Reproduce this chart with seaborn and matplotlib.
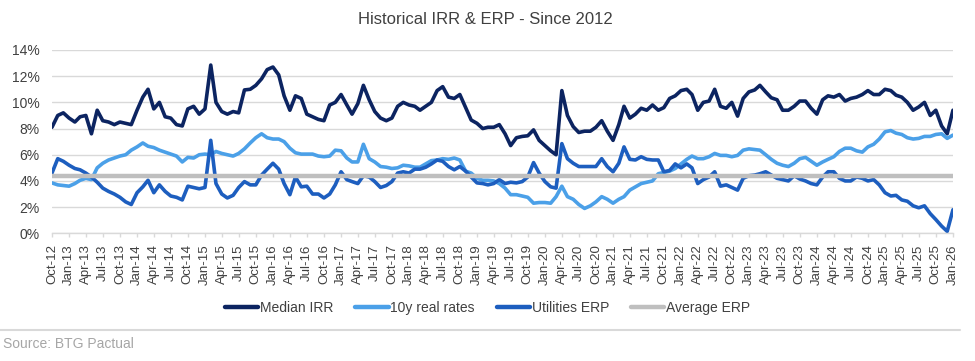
import pandas as pd
import matplotlib
matplotlib.use("Agg")
import matplotlib.pyplot as plt
from matplotlib.lines import Line2D
import seaborn as sns

# monthly readings, Oct-12 .. Jan-26 (160 months), values in %
median_irr = [
    8.1, 9.0, 9.2, 8.8, 8.5, 8.9, 9.0, 7.6, 9.4, 8.6,
    8.5, 8.3, 8.5, 8.4, 8.3, 9.4, 10.4, 11.0, 9.5, 10.0,
    8.9, 8.8, 8.3, 8.2, 9.5, 9.7, 9.1, 9.5,
    12.85, 10.0, 9.3, 9.1, 9.3, 9.2, 10.95, 11.0, 11.3, 11.8,
    12.5, 12.7, 12.1, 10.5, 9.4, 10.5, 10.3, 9.1, 8.9, 8.7,
    8.6, 9.8, 10.0, 10.6, 9.8, 9.1,
    9.9, 11.3, 10.2, 9.3, 8.8, 8.6, 8.8, 9.7, 10.0, 9.8,
    9.7, 9.4, 9.7, 10.0, 10.9, 11.2, 10.4, 10.3, 10.6, 9.6,
    8.65, 8.4, 8.0, 8.1, 8.1, 8.3, 7.6,
    6.7, 7.3, 7.4, 7.45, 7.9, 7.1, 6.7, 6.3, 6.0, 10.9,
    9.0, 8.15, 7.7, 7.8, 7.8, 8.1, 8.6, 7.8, 7.1, 8.3,
    9.7, 8.8, 9.1, 9.55, 9.4, 9.8,
    9.4, 9.6, 10.3, 10.5, 10.9, 11.0, 10.6, 9.4, 10.0, 10.1,
    11.0, 9.7, 9.55, 10.0, 8.95, 10.3, 10.8, 10.95, 11.3, 10.8,
    10.35, 10.2, 9.4, 9.4, 9.7,
    10.1, 10.1, 9.55, 9.1, 10.2, 10.5, 10.4, 10.6, 10.1, 10.3,
    10.4, 10.6, 10.9, 10.6, 10.6, 11.0, 10.9, 10.55, 10.4, 10.0,
    9.4, 9.65, 10.0, 9.0, 9.4, 8.2, 7.6, 9.4,
]

real_rates_10y = [
    3.85, 3.7, 3.65, 3.6, 3.8, 4.05, 4.2, 4.1, 5.0, 5.35,
    5.6, 5.75, 5.9, 6.0, 6.35, 6.6, 6.9, 6.65, 6.55, 6.35,
    6.2, 6.05, 5.9, 5.45, 5.8, 5.75, 6.0, 6.05,
    6.0, 6.25, 6.1, 6.0, 5.9, 6.1, 6.45, 6.9, 7.3, 7.6,
    7.3, 7.2, 7.2, 7.0, 6.5, 6.15, 6.05, 6.05, 6.05, 5.9,
    5.85, 5.9, 6.35, 6.3, 5.75, 5.45,
    5.45, 6.8, 5.7, 5.45, 5.1, 5.05, 4.95, 5.0, 5.2, 5.15,
    5.05, 5.05, 5.3, 5.55, 5.6, 5.7, 5.65, 5.75, 5.6, 4.75,
    4.6, 4.2, 4.05, 4.05, 4.0, 3.8, 3.45,
    2.95, 2.95, 2.85, 2.75, 2.3, 2.35, 2.35, 2.3, 2.8, 3.6,
    2.8, 2.6, 2.2, 1.9, 2.1, 2.4, 2.8, 2.6, 2.3, 2.6,
    2.8, 3.3, 3.55, 3.8, 3.9, 4.0,
    4.55, 4.65, 4.75, 4.95, 5.3, 5.65, 5.9, 5.7, 5.7, 5.85,
    6.1, 5.95, 5.95, 5.85, 5.95, 6.35, 6.45, 6.4, 6.35, 6.0,
    5.65, 5.35, 5.2, 5.1, 5.35,
    5.7, 5.8, 5.5, 5.2, 5.45, 5.65, 5.85, 6.25, 6.5, 6.5,
    6.3, 6.2, 6.6, 6.8, 7.2, 7.75, 7.85, 7.65, 7.55, 7.3,
    7.2, 7.25, 7.4, 7.4, 7.55, 7.6, 7.25, 7.5,
]

utilities_erp = [
    4.6, 5.7, 5.5, 5.2, 4.95, 4.85, 4.6, 4.3, 3.9, 3.45,
    3.2, 3.0, 2.75, 2.4, 2.2, 3.1, 3.55, 4.05, 3.1, 3.7,
    3.2, 2.85, 2.75, 2.55, 3.6, 3.5, 3.4, 3.5,
    7.1, 3.8, 3.0, 2.7, 2.9, 3.5, 3.95, 3.7, 3.7, 4.45,
    4.9, 5.35, 4.9, 3.8, 2.95, 4.3, 3.55, 3.6, 3.0, 3.0,
    2.7, 3.0, 3.7, 4.7, 4.1, 3.95,
    3.8, 4.4, 4.3, 3.95, 3.5, 3.65, 3.95, 4.6, 4.7, 4.6,
    4.9, 4.9, 5.05, 5.3, 5.6, 5.5, 5.1, 4.85, 5.1, 4.75,
    4.3, 3.85, 3.8, 3.7, 3.8, 4.1, 3.8,
    3.9, 3.85, 3.95, 4.3, 5.4, 4.6, 3.95, 3.55, 3.45, 6.85,
    5.7, 5.35, 5.1, 5.1, 5.1, 5.1, 5.7, 5.1, 4.7, 5.35,
    6.6, 5.65, 5.6, 5.85, 5.65, 5.6,
    5.6, 4.7, 4.8, 5.3, 5.0, 5.3, 5.0, 3.8, 4.1, 4.3,
    4.7, 3.6, 3.7, 3.5, 3.3, 4.2, 4.4, 4.45, 4.55, 4.7,
    4.45, 4.2, 4.1, 4.0, 4.4,
    4.15, 4.0, 3.8, 3.7, 4.3, 4.7, 4.7, 4.2, 4.0, 4.0,
    4.3, 4.2, 4.0, 4.1, 3.7, 3.1, 2.85, 2.9, 2.55, 2.45,
    2.1, 1.95, 2.1, 1.5, 1.05, 0.55, 0.15, 1.8,
]

average_erp = 4.37

series_names = ["Median IRR", "10y real rates", "Utilities ERP"]
colors = {"Median IRR": "#0C2461", "10y real rates": "#4BA0E8",
          "Utilities ERP": "#1D5EBF", "Average ERP": "#BFBFBF"}

dates = pd.date_range("2012-10-01", periods=len(median_irr), freq="MS")
df = pd.concat([
    pd.DataFrame({"Date": dates, "Value": vals, "Series": name})
    for name, vals in zip(series_names, [median_irr, real_rates_10y, utilities_erp])
])

sns.set_theme(style="white")
plt.rcParams["font.family"] = ["Liberation Sans", "DejaVu Sans"]
text_color = "#404040"
grid_color = "#D9D9D9"

fig = plt.figure(figsize=(9.75, 3.61), dpi=100)
ax = fig.add_axes([0.0533, 0.3537, 0.9241, 0.5078])

sns.lineplot(data=df, x="Date", y="Value", hue="Series", palette=colors,
             hue_order=series_names, linewidth=2.6, ax=ax)
ax.axhline(average_erp, color=colors["Average ERP"], linewidth=3.2, label="Average ERP", zorder=5)

handles, labels = ax.get_legend_handles_labels()
ax.get_legend().remove()

# axes styling
ax.set_ylim(0, 14)
ax.set_yticks(range(0, 15, 2))
ax.set_yticklabels([f"{v}%" for v in range(0, 15, 2)])
ticks = pd.date_range("2012-10-01", "2026-01-01", freq="3MS")
ax.set_xlim(ticks[0], ticks[-1])
ax.set_xticks(ticks)
ax.set_xticklabels([t.strftime("%b-%y") for t in ticks], rotation=90)
ax.set_xlabel("")
ax.set_ylabel("")
ax.grid(axis="y", color=grid_color, linewidth=1)
ax.set_axisbelow(True)
for side in ["left", "right", "top"]:
    ax.spines[side].set_visible(False)
ax.spines["bottom"].set_color(grid_color)
ax.spines["bottom"].set_linewidth(1)
ax.tick_params(axis="y", length=0, pad=9, labelsize=10, labelcolor=text_color)
ax.tick_params(axis="x", length=3, width=1, color=grid_color, pad=5,
               labelsize=9.5, labelcolor=text_color, bottom=True)

fig.text(0.4974, 1 - 19 / 361, "Historical IRR & ERP - Since 2012",
         ha="center", va="center", fontsize=12, color=text_color)

leg = fig.legend(handles, labels, loc="center", bbox_to_anchor=(0.5, 1 - 308 / 361),
                 ncol=4, frameon=False, fontsize=10, handlelength=2.4,
                 handletextpad=0.1, columnspacing=1.6)
for line in leg.get_lines():
    line.set_linewidth(3.2)
for t in leg.get_texts():
    t.set_color(text_color)

fig.add_artist(Line2D([0.0, 0.985], [1 - 330 / 361] * 2, color=grid_color, linewidth=1.5))
fig.text(0.003, 1 - 344 / 361, "Source: BTG Pactual", ha="left", va="center",
         fontsize=10, color="#A6A6A6")

fig.savefig("out.png", dpi=100)
